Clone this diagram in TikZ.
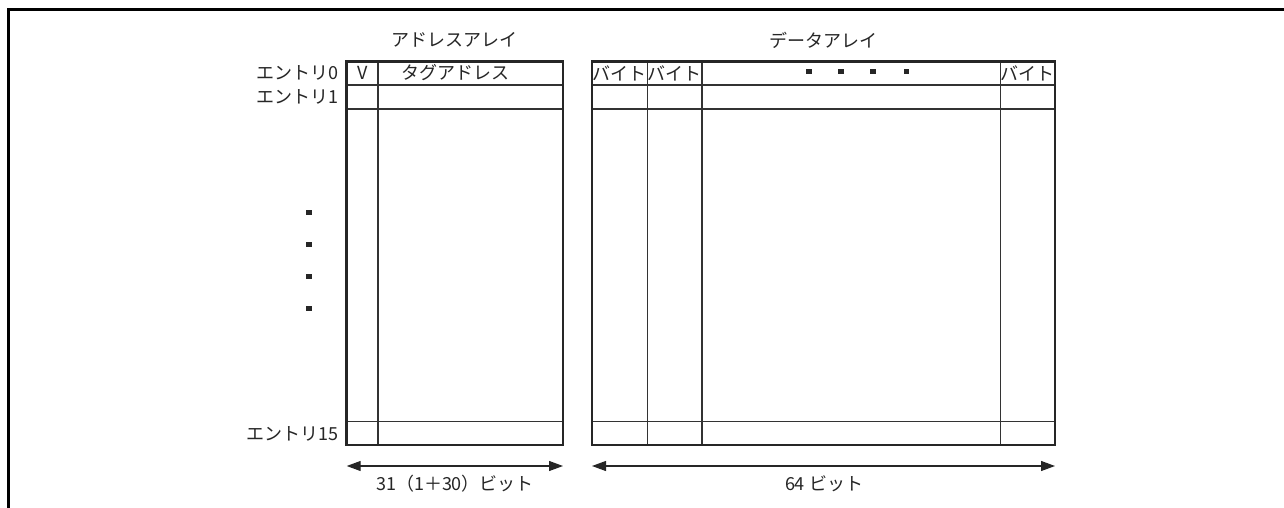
\documentclass[tikz,border=0pt]{standalone}
\usepackage{fontspec}
\setmainfont{Noto Sans CJK JP}
\usetikzlibrary{arrows.meta}
\begin{document}
\begin{tikzpicture}[x=1pt,y=-1pt,
  txt/.style={inner sep=0pt,font=\fontsize{18}{19}\selectfont,text=black!85},
  outerbox/.style={draw=black!85,line width=2.6pt},
  grid/.style={draw=black!80,line width=1.1pt},
  dim/.style={draw=black!85,line width=1.1pt,{Triangle[length=14pt,width=10pt]}-{Triangle[length=14pt,width=10pt]}},
  sq/.style={fill=black!85,minimum size=5.5pt,inner sep=0pt}]
\useasboundingbox (0,0) rectangle (1284,508);
\draw[line width=3pt] (1284,9.7) -- (8.7,9.7) -- (8.7,508);

% address array
\draw[grid] (378,61.7) -- (378,445);
\draw[grid] (346.7,85) -- (563,85);
\draw[grid] (346.7,109) -- (563,109);
\draw[grid] (346.7,421.7) -- (563,421.7);
\draw[outerbox] (346.7,61.7) rectangle (563,445);

% data array
\foreach \xx in {647.7,702,1000.7} \draw[grid] (\xx,61.7) -- (\xx,445);
\draw[grid] (592,85) -- (1055,85);
\draw[grid] (592,109) -- (1055,109);
\draw[grid] (592,421.7) -- (1055,421.7);
\draw[outerbox] (592,61.7) rectangle (1055,445);

% titles
\node[txt] (tA) at (454,40) {アドレスアレイ};
\node[txt] (tD) at (823,40) {データアレイ};

% entry labels
\node[txt,anchor=east] (e0) at (339,73) {エントリ0};
\node[txt,anchor=east] (e1) at (339,97) {エントリ1};
\node[txt,anchor=east] (e15) at (339,433.5) {エントリ15};

% cell labels
\node[txt] (v) at (362.3,73) {V};
\node[txt] (tag) at (455,73) {タグアドレス};
\node[txt] (b1) at (619.8,73) {バイト};
\node[txt] (b2) at (674.8,73) {バイト};
\node[txt] (bn) at (1027.8,73) {バイト};

% dots
\foreach \xx [count=\i] in {809,841,873,906.7} \node[sq] (hd\i) at (\xx,71.7) {};
\foreach \yy [count=\i] in {212.7,244.3,276.3,308.3} \node[sq] (vd\i) at (309,\yy) {};

% dimension arrows
\coordinate (aL) at (346.7,466);
\coordinate (aR) at (563,466);
\coordinate (dL) at (592,466);
\coordinate (dR) at (1055,466);
\draw[dim] (aL) -- (aR);
\draw[dim] (dL) -- (dR);
\node[txt] (wA) at (455,484) {31（1＋30）ビット};
\node[txt] (wD) at (824,484) {64 ビット};
\end{tikzpicture}
\end{document}
